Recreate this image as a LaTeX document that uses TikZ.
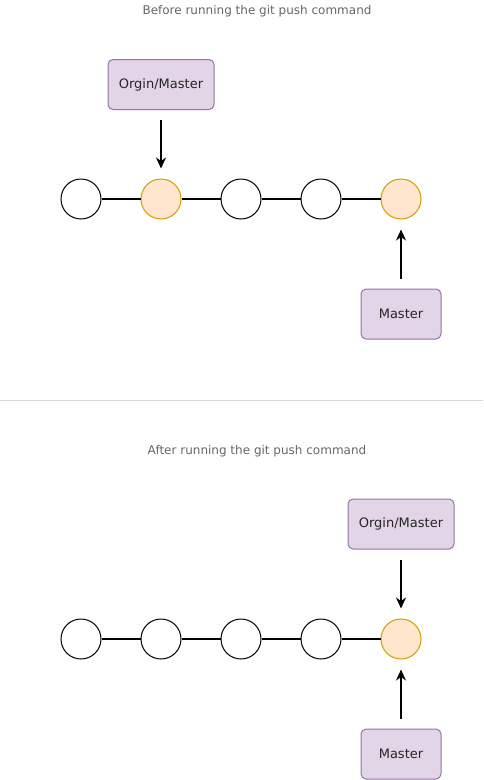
\documentclass[tikz,border=0pt]{standalone}
\usepackage{fontspec}
\setmainfont{DejaVu Sans}
\usepackage{tikz}
\usetikzlibrary{arrows.meta}

\definecolor{purplefill}{HTML}{E1D5E7}
\definecolor{purpleline}{HTML}{9673A6}
\definecolor{orangefill}{HTML}{FFE6CC}
\definecolor{orangeline}{HTML}{D79B00}
\definecolor{titlegray}{HTML}{666666}

\begin{document}
\begin{tikzpicture}[x=1pt,y=-1pt,
    commit/.style={circle,draw=black,line width=1pt,fill=white,minimum size=40pt,inner sep=0pt},
    head/.style={commit,draw=orangeline,fill=orangefill},
    pointer/.style={rounded corners=5pt,draw=purpleline,fill=purplefill,line width=1pt,
                    minimum height=50pt,font=\fontsize{13}{15}\selectfont,text=black!85},
    caption/.style={font=\fontsize{12}{14}\selectfont,text=titlegray}]
		\useasboundingbox (0,0) rectangle (483,780);

		% before
		\node[caption] (t1) at (257,11) {Before running the git push command};
		\begin{scope}[every node/.style={commit}]
		    \node (b1) at (81,199) {};
		    \node[head] (b2) at (161,199) {};
		    \node (b3) at (241,199) {};
		    \node (b4) at (321,199) {};
		    \node[head] (b5) at (401,199) {};
		\end{scope}
		\node[pointer,minimum width=106pt] (om1) at (161,84.5) {Orgin/Master};
		\node[pointer,minimum width=80pt] (m1) at (401,314) {Master};

		% after
		\node[caption] (t2) at (257,451) {After running the git push command};
		\begin{scope}[every node/.style={commit}]
		    \node (a1) at (81,639) {};
		    \node (a2) at (161,639) {};
		    \node (a3) at (241,639) {};
		    \node (a4) at (321,639) {};
		    \node[head] (a5) at (401,639) {};
		\end{scope}
		\node[pointer,minimum width=106pt] (om2) at (401,524) {Orgin/Master};
		\node[pointer,minimum width=80pt] (m2) at (401,754) {Master};

		\draw[line width=1pt,black!15] (0,400) -- (483,400);

		\begin{scope}[every edge/.style={draw=black,line width=2pt}]
		    \path (b1) edge (b2) (b2) edge (b3) (b3) edge (b4) (b4) edge (b5);
		    \path (a1) edge (a2) (a2) edge (a3) (a3) edge (a4) (a4) edge (a5);
		\end{scope}

		\begin{scope}[>={Stealth[length=11pt,width=10pt]},
		              every edge/.style={draw=black,line width=2pt,->,shorten <=10pt,shorten >=10pt}]
		    \path (om1) edge (b2);
		    \path (m1) edge (b5);
		    \path (om2) edge (a5);
		    \path (m2) edge (a5);
		\end{scope}
\end{tikzpicture}
\end{document}
